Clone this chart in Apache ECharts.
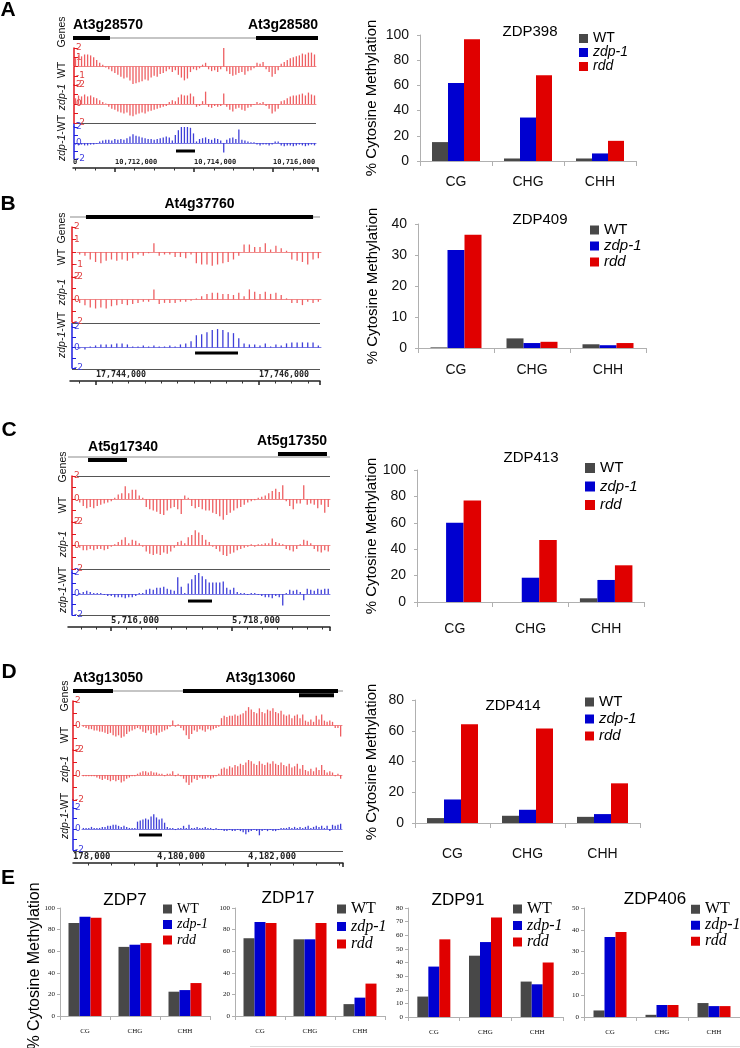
<!DOCTYPE html>
<html><head><meta charset="utf-8">
<script src="https://cdn.jsdelivr.net/npm/echarts@6/dist/echarts.min.js"></script>
<style>html,body{margin:0;padding:0;background:#fff}#c{width:740px;height:1048px}</style>
</head><body><div id="c"></div>
<script>
// ---------------- DATA ----------------
const contexts = ['CG', 'CHG', 'CHH'];
const genotypes = ['WT', 'zdp-1', 'rdd'];

// % cytosine methylation (CG, CHG, CHH)
const zdp398WT = [15, 2, 2];
const zdp398Zdp1 = [62, 34.5, 6];
const zdp398Rdd = [96.6, 68, 16];
const zdp409WT = [0.2, 3.1, 1.2];
const zdp409Zdp1 = [31.6, 1.6, 0.9];
const zdp409Rdd = [36.5, 2.0, 1.6];
const zdp413WT = [0, 0, 2.8];
const zdp413Zdp1 = [60, 18.4, 16.7];
const zdp413Rdd = [76.8, 47, 27.8];
const zdp414WT = [3.2, 4.7, 4.0];
const zdp414Zdp1 = [15.3, 8.6, 5.8];
const zdp414Rdd = [64.3, 61.4, 25.8];
const zdp7WT = [86, 64, 22.5];
const zdp7Zdp1 = [92, 66, 24];
const zdp7Rdd = [91, 67.5, 30.5];
const zdp17WT = [72, 71, 11];
const zdp17Zdp1 = [87, 71, 17];
const zdp17Rdd = [86, 86, 30];
const zdp91WT = [15, 45, 26];
const zdp91Zdp1 = [37, 55, 24];
const zdp91Rdd = [57, 73, 40];
const zdp406WT = [3, 1, 6.4];
const zdp406Zdp1 = [36.7, 5.5, 5];
const zdp406Rdd = [39, 5.5, 5];

// genome browser tracks (log2 values)
const trackA_WT = [0.9,1.2,1.1,1.3,1.3,1.2,1.0,0.7,0.4,0.2,
 -0.1,-0.3,-0.5,-0.7,-0.9,-1.1,-1.3,-1.2,-1.5,-1.9,
 -1.8,-1.7,-1.6,-1.4,-1.5,-1.2,-1.0,-1.1,-0.8,-0.7,
 -0.5,-0.3,-0.6,-0.4,-0.9,-1.2,-1.5,-1.3,-0.6,-0.3,
 -0.4,-0.2,0.2,0.4,-0.3,-0.5,-0.4,-0.6,-0.3,2.1,
 -0.5,-0.8,-1.0,-0.9,-0.7,-0.6,-0.9,-0.5,-0.4,-0.2,
 0.4,0.3,0.5,-0.3,-0.6,-1.1,-0.8,-0.4,0.3,0.5,
 0.7,0.9,1.0,1.1,1.2,1.4,1.3,1.5,1.5,1.3];
const trackA_zdp1 = [0.6,0.9,0.8,1.0,0.8,0.9,0.7,0.6,0.4,0.2,
 0.05,-0.3,-0.5,-0.6,-0.8,-0.9,-1.0,-0.9,-1.2,-1.3,
 -1.1,-1.0,-0.9,-1.0,-0.8,-0.7,-0.6,-0.5,-0.4,-0.3,
 -0.2,0.2,0.4,0.3,0.7,1.0,0.9,0.9,1.1,0.8,
 -0.3,-0.2,0.3,1.3,-0.3,-0.4,-0.2,-0.3,-0.2,1.1,
 -0.3,-0.6,-0.8,-0.5,-0.4,-0.6,-0.7,-0.4,-0.3,-0.1,
 0.2,0.1,0.2,-0.2,-0.5,-1.0,-0.8,-0.5,0.3,0.4,
 0.6,0.8,0.9,0.9,1.0,1.1,0.9,1.2,1.0,0.9];
const trackA_diff = [-0.2,-0.3,-0.2,-0.3,-0.3,-0.2,-0.2,-0.1,0.2,0.3,
 0.4,0.4,0.3,0.5,0.4,0.5,0.4,0.6,0.8,1.1,
 0.9,0.8,0.7,0.6,0.5,0.5,0.4,0.5,0.6,0.7,
 0.8,0.7,0.3,1.0,1.6,2.1,2.4,2.3,1.9,1.2,
 0.2,0.5,0.6,0.7,0.5,0.4,0.6,0.5,0.3,-1.2,
 0.4,0.6,0.7,0.5,1.7,0.4,0.3,0.2,0.1,0.1,
 -0.2,-0.3,-0.2,-0.2,-0.3,-0.2,0.2,0.2,-0.3,-0.4,
 -0.3,-0.3,-0.4,-0.3,-0.2,-0.3,-0.4,-0.3,-0.2,-0.3];

const trackB_WT = [-0.2,-0.3,-0.6,-0.8,-0.9,-0.7,-0.6,-0.7,-0.6,-0.7,
 -0.5,-0.2,-0.3,-0.1,0.7,-0.3,-0.2,-0.2,-0.4,-0.4,
 -0.5,-0.2,-0.9,-1.0,-1.0,-1.1,-1.0,-0.9,-0.8,-0.6,
 -0.3,0.6,0.6,0.4,0.4,0.7,0.2,0.5,0.3,0.1,
 -0.6,-0.7,-0.8,-1.0,-0.6,-0.5];
const trackB_zdp1 = [-0.3,-0.5,-0.7,-0.8,-0.7,-0.8,-0.6,-0.5,-0.4,-0.5,
 -0.4,-0.3,-0.2,-0.2,0.9,-0.4,-0.3,-0.3,-0.3,-0.2,
 -0.2,-0.1,0.1,0.3,0.5,0.6,0.6,0.5,0.5,0.4,
 0.6,0.3,0.9,0.7,0.5,0.7,0.5,0.6,0.4,0.1,
 -0.3,-0.3,-0.5,-0.2,-0.3,-0.2];
const trackB_diff = [-0.1,-0.2,0.1,0.2,0.3,0.3,0.3,0.4,0.4,0.3,
 0.1,0.1,0.2,0.1,0.2,0.1,0.1,0.2,0.1,0.3,
 0.4,0.6,1.2,1.3,1.5,1.7,1.8,1.7,1.5,1.4,
 0.9,0.4,0.3,0.3,0.2,0.4,0.1,0.3,0.2,0.4,
 0.5,0.5,0.5,0.5,0.5,0.2];

const trackC_WT = [-0.3,-0.6,-0.8,-0.7,-0.8,-0.6,-0.5,-0.4,-0.3,-0.2,
 0.1,0.4,0.5,1.1,0.5,0.8,0.8,0.3,0.1,-0.7,
 -0.9,-1.0,-1.1,-1.3,-1.4,-1.0,-0.8,-0.7,-0.9,-1.3,
 0.3,0.1,-0.6,-0.8,-0.7,-0.9,-1.0,-1.0,-1.2,-1.3,
 -1.5,-1.8,-1.4,-1.2,-1.0,-0.8,-0.7,-0.5,-0.3,-0.2,
 -0.1,0.1,0.2,0.3,0.5,0.7,0.9,0.6,1.2,-0.2,
 -0.6,-0.9,-0.4,-0.4,1.2,-0.5,-0.4,-0.5,-0.8,-0.5,
 -1.2,-0.7];
const trackC_zdp1 = [-0.2,-0.4,-0.4,-0.3,-0.4,-0.3,-0.3,-0.4,-0.3,-0.1,
 0.1,0.3,0.5,0.7,0.2,0.5,0.4,0.2,-0.1,-0.5,
 -0.7,-0.8,-0.7,-0.8,-0.6,-0.7,-0.5,-0.2,0.3,0.4,
 0.2,0.7,0.9,1.3,1.1,0.9,0.5,0.3,-0.1,-0.3,
 -0.5,-0.8,-0.9,-0.7,-0.6,-0.4,-0.3,-0.2,-0.1,0.1,
 -0.1,0.1,0.1,0.2,0.2,0.6,0.3,0.2,0.1,-0.3,
 -0.4,-0.5,-0.3,0.1,0.5,0.4,0.2,-0.3,-0.5,-0.6,
 -0.4,-0.5];
const trackC_diff = [0.1,0.2,0.3,0.2,0.1,0.1,0.1,-0.1,-0.2,-0.2,
 -0.3,-0.3,-0.3,-0.4,-0.3,-0.3,-0.2,0.1,0.1,0.4,
 0.5,0.4,0.6,0.6,0.7,0.5,0.4,0.3,1.6,0.7,
 0.1,1.0,1.4,1.8,2.1,1.7,1.4,1.1,1.1,1.1,
 1.1,1.2,0.6,0.4,0.6,0.2,0.1,0.1,-0.1,0.1,
 0.1,-0.1,-0.2,-0.3,-0.3,-0.4,-0.2,-0.3,-1.1,0.1,
 0.4,0.3,0.4,0.2,-0.6,0.5,0.4,0.3,0.5,0.4,
 0.5,0.5];

const trackD_WT = [-0.1,-0.2,-0.3,-0.3,-0.4,-0.4,-0.5,-0.5,-0.6,-0.7,
 -0.6,-0.8,-0.9,-0.8,-1.0,-0.9,-0.7,-0.5,-0.4,-0.3,
 -0.2,-0.3,-0.5,-0.6,-0.4,-0.7,-0.6,-0.8,-0.6,-0.5,
 -0.4,-0.3,-0.1,0.4,-0.1,0.1,-0.2,-0.4,-0.8,-1.1,
 -0.7,-0.4,-0.5,-0.3,-0.4,-0.5,-0.3,-0.4,-0.3,-0.2,
 -0.1,0.6,0.8,0.7,0.8,0.8,0.9,0.8,0.9,1.0,
 1.2,1.5,1.3,1.1,1.0,1.4,1.1,1.0,1.3,1.2,
 1.4,1.1,1.0,1.2,0.9,0.8,0.9,0.6,0.8,0.9,
 0.6,0.9,0.4,0.3,0.5,0.3,0.8,0.5,0.9,0.4,
 0.3,0.4,0.3,-0.2,-0.2,-0.9];
const trackD_zdp1 = [-0.1,-0.1,-0.1,-0.1,-0.1,-0.2,-0.3,-0.4,-0.3,-0.4,
 -0.5,-0.4,-0.5,-0.4,-0.6,-0.5,-0.3,-0.2,-0.1,-0.1,
 0.1,0.2,0.3,0.3,0.2,0.3,0.2,0.2,0.1,0.1,
 -0.1,0.1,0.1,0.3,-0.1,0.1,-0.1,-0.3,-0.6,-0.8,
 -0.6,-0.3,-0.4,-0.2,-0.3,-0.3,-0.2,-0.3,-0.2,-0.1,
 0.1,0.5,0.6,0.5,0.7,0.6,0.8,0.7,0.9,0.8,
 1.0,1.2,1.1,0.9,0.8,1.1,0.9,0.8,1.0,0.9,
 1.1,0.9,0.8,1.0,0.8,0.7,0.9,0.6,0.7,0.9,
 0.5,0.8,0.4,0.3,0.5,0.3,0.6,0.4,0.8,0.4,
 0.2,0.3,0.2,-0.1,0.1,-0.3];
const trackD_diff = [0.1,0.1,0.1,0.2,0.1,0.1,0.1,0.2,0.2,0.3,
 0.3,0.4,0.4,0.3,0.2,0.3,0.2,0.1,0.1,0.1,
 0.7,0.8,0.9,1.0,0.9,1.2,1.4,1.1,0.9,1.0,
 0.6,0.2,0.1,0.1,-0.1,0.1,0.1,0.3,0.1,0.4,
 0.1,0.1,0.2,0.1,0.1,0.2,0.1,0.1,-0.1,0.1,
 -0.1,-0.1,-0.2,-0.2,-0.1,-0.2,-0.2,-0.1,-0.2,-0.3,
 -0.5,-0.3,-0.2,-0.1,-0.2,-0.6,-0.2,-0.1,-0.2,-0.1,
 -0.2,-0.2,-0.1,0.1,0.1,0.1,0.2,0.1,0.2,0.1,
 0.2,0.1,0.2,0.3,0.1,0.2,0.3,0.2,0.3,0.1,
 0.3,-0.2,0.4,0.3,0.4,0.5];

// genomic coordinates
const rangeA = [10710937, 10717139];
const ticksA = [10712000, 10714000, 10716000];
const genesA = [{name:'At3g28570', start:10710937, end:10711873}, {name:'At3g28580', start:10715570, end:10717139}];
const peakA = [10713544, 10714025];

const rangeB = [17743681, 17746748];
const ticksB = [17744000, 17746000];
const genesB = [{name:'At4g37760', start:17743877, end:17746663}];
const peakB = [17745215, 17745742];

const rangeC = [5715289, 5719620];
const ticksC = [5716000, 5718000];
const genesC = [{name:'At5g17340', start:5715620, end:5716264}, {name:'At5g17350', start:5718760, end:5719570}];
const peakC = [5717273, 5717669];

const rangeD = [4178154, 4184088];
const ticksD = [4180000, 4182000];
const genesD = [{name:'At3g13050', start:4178154, end:4179033}, {name:'At3g13060', start:4180571, end:4183978}, {name:'', start:4183121, end:4183890}];
const peakD = [4179604, 4180110];

// ---------------- LAYOUT / STYLE ----------------
const RED_AXIS = '#e3161c', RED_BAR = '#ee5f62', RED_BASE = '#f08c8c';
const BLUE_AXIS = '#1f1fe0', BLUE_BAR = '#3f3fd8', BLUE_BASE = '#7c7ce4';
const GCOL = ['#484848', '#0000d0', '#e00000'];
const SANS = 'Liberation Sans', SERIF = 'Liberation Serif';

const grid = [], xAxis = [], yAxis = [], series = [], legend = [], graphic = [];
function addGrid(g) { grid.push(Object.assign({outerBoundsMode: 'none', containLabel: false}, g)); return grid.length - 1; }
function txt(x, y, text, font, opts) {
  graphic.push(Object.assign({type: 'text', x: x, y: y, silent: true,
    style: Object.assign({text: text, font: font, fill: '#000', align: 'center', verticalAlign: 'middle'}, (opts && opts.style) || {})},
    (opts && opts.el) || {}));
}
function hline(x1, y, x2, color) {
  graphic.push({type: 'line', silent: true, shape: {x1: x1, y1: y + 0.5, x2: x2, y2: y + 0.5}, style: {stroke: color || '#555', lineWidth: 1}});
}
function vline(x, y1, y2, color) {
  graphic.push({type: 'line', silent: true, shape: {x1: x, y1: y1, x2: x, y2: y2}, style: {stroke: color, lineWidth: 1.5}});
}
function rotLabel(x, y, text, italicPart) {
  let t;
  if (italicPart === 'all') t = '{i|' + text + '}';
  else if (italicPart) t = '{i|' + italicPart + '}{n|' + text.slice(italicPart.length) + '}';
  else t = '{n|' + text + '}';
  graphic.push({type: 'text', x: x, y: y, rotation: Math.PI / 2, silent: true,
    style: {text: t, align: 'center', verticalAlign: 'middle', fill: '#111',
      rich: {i: {fontStyle: 'italic', fontSize: 10.5, fontFamily: SANS, fill: '#111'}, n: {fontSize: 10.5, fontFamily: SANS, fill: '#111'}}}});
}

function buildBrowser(L, range, ticks, genes, peak, tracks, leftLabel, minorStep) {
  const pxPerBp = L.rulerW / (range[1] - range[0]);
  // gene track
  const gg = addGrid({left: L.rulerLeft, width: L.rulerW, top: L.geneY - 10, height: 20});
  xAxis.push({gridIndex: gg, type: 'value', min: range[0], max: range[1], show: false});
  yAxis.push({gridIndex: gg, type: 'value', min: -1, max: 1, show: false});
  const gx = xAxis.length - 1, gy = yAxis.length - 1;
  series.push({type: 'custom', xAxisIndex: gx, yAxisIndex: gy, silent: true, clip: false,
    data: [[range[0], range[1], 0]], encode: {x: [0, 1], y: 2},
    renderItem: function (params, api) {
      const a = api.coord([api.value(0), 0]), b = api.coord([api.value(1), 0]);
      return {type: 'rect', shape: {x: a[0], y: a[1] - 0.5, width: b[0] - a[0], height: 1}, style: {fill: '#8c8c8c'}};
    }});
  series.push({type: 'custom', xAxisIndex: gx, yAxisIndex: gy, silent: true, clip: false,
    data: genes.map(g => [g.start, g.end, 0]), encode: {x: [0, 1], y: 2},
    renderItem: function (params, api) {
      const i = params.dataIndex, lay = L.geneLayout[i];
      const a = api.coord([api.value(0), 0]), b = api.coord([api.value(1), 0]);
      const y = a[1] + lay.lane * 3;
      const kids = [{type: 'rect', shape: {x: a[0], y: y - 2, width: b[0] - a[0], height: 4}, style: {fill: '#000'}}];
      if (genes[i].name) {
        const tx = lay.align === 'left' ? a[0] : lay.align === 'right' ? b[0] : (a[0] + b[0]) / 2;
        kids.push({type: 'text', style: {x: tx, y: y - 12.5, text: genes[i].name, align: lay.align, verticalAlign: 'middle', font: 'bold 14px "Liberation Sans"', fill: '#000'}});
      }
      return {type: 'group', children: kids};
    }});
  // data tracks
  tracks.forEach((t, k) => {
    const tl = L.tracks[k];
    const blue = k === 2;
    const gi = addGrid({left: L.barLeft, width: L.barW, top: tl.top, height: tl.h});
    xAxis.push({gridIndex: gi, type: 'category', data: t.map((_, i) => i), boundaryGap: true,
      axisLine: {show: true, onZero: true, lineStyle: {color: blue ? BLUE_BASE : RED_BASE, width: 1}},
      axisTick: {show: false}, axisLabel: {show: false}, splitLine: {show: false}});
    const xi = xAxis.length - 1;
    const col = blue ? BLUE_AXIS : RED_AXIS;
    yAxis.push({gridIndex: gi, type: 'value', min: -2, max: 2, interval: 1, offset: L.barLeft - L.axisX,
      axisLine: {show: true, lineStyle: {color: col, width: 1.5}},
      axisTick: {show: true, inside: true, length: 4, lineStyle: {color: col, width: 1}},
      axisLabel: {show: true, inside: true, margin: 2, fontSize: 9, fontFamily: 'DejaVu Sans', color: blue ? '#4040e0' : '#e04040',
        showMinLabel: true, showMaxLabel: true,
        formatter: v => tl.labels.indexOf(v) >= 0 ? String(v) : ''},
      splitLine: {show: false}});
    const yi = yAxis.length - 1;
    series.push({type: 'bar', xAxisIndex: xi, yAxisIndex: yi, data: t, barWidth: 1.3, silent: true,
      itemStyle: {color: blue ? BLUE_BAR : RED_BAR}});
    if (blue) {
      const gMin = range[0] + (L.barLeft - L.rulerLeft) / pxPerBp;
      const gMax = gMin + L.barW / pxPerBp;
      xAxis.push({gridIndex: gi, type: 'value', min: gMin, max: gMax, show: false});
      series.push({type: 'custom', xAxisIndex: xAxis.length - 1, yAxisIndex: yi, silent: true, clip: false,
        data: [[peak[0], peak[1], L.peakLevel]], encode: {x: [0, 1], y: 2},
        renderItem: function (params, api) {
          const a = api.coord([api.value(0), api.value(2)]), b = api.coord([api.value(1), api.value(2)]);
          return {type: 'rect', shape: {x: a[0], y: a[1] - 1.5, width: b[0] - a[0], height: 3}, style: {fill: '#000'}};
        }});
    }
  });
  if (L.blueExt) vline(L.axisX, L.blueExt[0], L.blueExt[1], BLUE_AXIS);
  // ruler
  const rg = addGrid({left: L.rulerLeft, width: L.rulerW, top: L.rulerY - 10, height: 10});
  xAxis.push({gridIndex: rg, type: 'value', min: range[0], max: range[1], position: 'bottom',
    axisLine: {show: true, onZero: false, lineStyle: {color: '#222', width: 1.5}},
    axisTick: {show: true, customValues: ticks.concat([range[1]]), length: 4, lineStyle: {color: '#222', width: 1.5}},
    axisLabel: {show: true, inside: true, customValues: [range[0]].concat(ticks), align: 'left', margin: 2,
      fontSize: L.rulerFont, fontFamily: 'DejaVu Sans Mono', fontWeight: 'bold', color: '#222',
      showMinLabel: true, showMaxLabel: true,
      formatter: v => (Math.abs(v - range[0]) < 1 ? leftLabel : Math.round(v).toLocaleString('en-US'))},
    splitLine: {show: false}});
  yAxis.push({gridIndex: rg, type: 'value', min: 0, max: 1, show: false});
  const minor = [];
  for (let v = Math.ceil(range[0] / minorStep) * minorStep; v < range[1]; v += minorStep) if (ticks.indexOf(v) < 0) minor.push(v);
  const mg = addGrid({left: L.rulerLeft, width: L.rulerW, top: L.rulerY - 10, height: 10});
  xAxis.push({gridIndex: mg, type: 'value', min: range[0], max: range[1], position: 'bottom',
    axisLine: {show: false, onZero: false}, axisTick: {show: true, customValues: minor, length: 2.5, lineStyle: {color: '#333', width: 1}},
    axisLabel: {show: false}, splitLine: {show: false}});
  yAxis.push({gridIndex: mg, type: 'value', min: 0, max: 1, show: false});
  // decorations
  L.seps.forEach(s => hline(s[0], s[1], s[2], '#555'));
  txt(L.letter[1], L.letter[2], L.letter[0], 'bold 21px "Liberation Sans"');
  rotLabel(L.labelX, L.labelYs[0], 'Genes');
  rotLabel(L.labelX, L.labelYs[1], 'WT');
  rotLabel(L.labelX, L.labelYs[2], 'zdp-1', 'all');
  rotLabel(L.labelX, L.labelYs[3], 'zdp-1-WT', 'zdp-1');
}

const LA = {axisX: 74, barLeft: 74, barW: 242, rulerLeft: 73, rulerW: 245, geneY: 38, rulerY: 168, rulerFont: 7,
  tracks: [{top: 48, h: 37, labels: [2, 1, -1, -2]}, {top: 85, h: 38, labels: [2, 0, -2]}, {top: 127, h: 32, labels: [2, 0, -2]}],
  seps: [[74, 123, 316]], peakLevel: -1.0, labelX: 62, labelYs: [32, 70, 97, 138], letter: ['A', 8, 10], blueExt: [123, 127],
  geneLayout: [{lane: 0, align: 'left'}, {lane: 0, align: 'right'}]};
const LB = {axisX: 72, barLeft: 77, barW: 244, rulerLeft: 70, rulerW: 250, geneY: 217, rulerY: 381, rulerFont: 8.3,
  tracks: [{top: 227, h: 50, labels: [2, 1, -1, -2]}, {top: 277, h: 45, labels: [2, 0, -2]}, {top: 327, h: 41, labels: [2, 0, -2]}],
  seps: [[72, 323, 320], [72, 369, 320]], peakLevel: -0.54, labelX: 62, labelYs: [228, 257, 292, 335], letter: ['B', 8, 204], blueExt: [323, 327],
  geneLayout: [{lane: 0, align: 'center'}]};
const LC = {axisX: 72, barLeft: 78, barW: 252, rulerLeft: 68, rulerW: 262, geneY: 457, rulerY: 627, rulerFont: 8.9,
  tracks: [{top: 476, h: 46, labels: [2, 0, -2]}, {top: 522, h: 47, labels: [2, 0, -2]}, {top: 573, h: 42, labels: [2, 0, -2]}],
  seps: [[77, 476, 330], [77, 569, 330], [77, 615, 330]], peakLevel: -0.67, labelX: 63, labelYs: [467, 505, 544, 590], letter: ['C', 9, 430], blueExt: [569, 573],
  geneLayout: [{lane: 1, align: 'left'}, {lane: -1, align: 'right'}]};
const LD = {axisX: 73, barLeft: 82, barW: 260, rulerLeft: 73, rulerW: 270, geneY: 691, rulerY: 863, rulerFont: 8.9,
  tracks: [{top: 701, h: 49, labels: [2, 0, -2]}, {top: 750, h: 50, labels: [2, 0, -2]}, {top: 808, h: 42, labels: [2, 0, -2]}],
  seps: [[73, 851, 343]], peakLevel: -0.57, labelX: 65, labelYs: [696, 735, 769, 816], letter: ['D', 9, 672], blueExt: [799, 808],
  geneLayout: [{lane: 0, align: 'left'}, {lane: 0, align: 'center'}, {lane: 1.4, align: 'left'}]};

buildBrowser(LA, rangeA, ticksA, genesA, peakA, [trackA_WT, trackA_zdp1, trackA_diff], '0', 500);
buildBrowser(LB, rangeB, ticksB, genesB, peakB, [trackB_WT, trackB_zdp1, trackB_diff], '', 200);
buildBrowser(LC, rangeC, ticksC, genesC, peakC, [trackC_WT, trackC_zdp1, trackC_diff], '', 250);
buildBrowser(LD, rangeD, ticksD, genesD, peakD, [trackD_WT, trackD_zdp1, trackD_diff], '178,000', 500);

function buildBars(C, title, vals) {
  const gi = addGrid({left: C.left, top: C.top, width: C.width, height: C.height});
  xAxis.push({gridIndex: gi, type: 'category', data: contexts,
    axisLine: {show: true, lineStyle: {color: '#b0b0b0', width: 1}},
    axisTick: {show: true, length: C.tickLen, lineStyle: {color: '#b0b0b0'}},
    axisLabel: {fontSize: C.catFont, fontFamily: C.family, color: '#111', margin: C.catMargin}, splitLine: {show: false}});
  yAxis.push({gridIndex: gi, type: 'value', min: 0, max: C.max, interval: C.interval,
    axisLine: {show: true, lineStyle: {color: '#b0b0b0', width: 1}},
    axisTick: {show: true, length: 3, lineStyle: {color: '#b0b0b0'}},
    axisLabel: {fontSize: C.yFont, fontFamily: C.family, color: '#111', margin: C.yMargin}, splitLine: {show: false}});
  const xi = xAxis.length - 1, yi = yAxis.length - 1;
  vals.forEach((d, k) => series.push({type: 'bar', name: genotypes[k], xAxisIndex: xi, yAxisIndex: yi, data: d,
    barWidth: C.barW, barGap: '0%', itemStyle: {color: GCOL[k]}}));
  const rich = {n: {fontSize: C.legFont, fontFamily: C.legFamily, lineHeight: C.legSpace, color: '#000'},
    i: {fontStyle: 'italic', fontSize: C.legFont, fontFamily: C.legFamily, lineHeight: C.legSpace, color: '#000'}};
  legend.push({left: C.legX, top: C.legTop, orient: 'vertical', padding: 0, itemGap: 0, itemWidth: C.legSq, itemHeight: C.legSq,
    icon: 'rect', data: genotypes, selectedMode: false,
    formatter: n => (n === 'WT' ? '{n|' + n + '}' : '{i|' + n + '}'),
    textStyle: {fontSize: C.legFont, fontFamily: C.legFamily, lineHeight: C.legSpace, color: '#000', rich: rich}});
  txt(C.title[0], C.title[1], title, C.titleFont + 'px "Liberation Sans"');
  if (C.ytitle) txt(C.ytitle[0], C.ytitle[1], '% Cytosine Methylation', '15px "Liberation Sans"', {el: {rotation: Math.PI / 2}});
}
const base = {family: SANS, legFamily: SANS, catFont: 14, yFont: 14, yMargin: 11, tickLen: 5, titleFont: 15};
buildBars(Object.assign({}, base, {left: 420, top: 35, width: 216, height: 126, max: 100, interval: 20, barW: 16, catMargin: 14,
  title: [530, 32], legX: 579, legTop: 31.5, legSpace: 13, legFont: 14, legSq: 9, ytitle: [372, 98]}),
  'ZDP398', [zdp398WT, zdp398Zdp1, zdp398Rdd]);
buildBars(Object.assign({}, base, {left: 418, top: 224, width: 228, height: 124, max: 40, interval: 10, barW: 17, catMargin: 15,
  title: [540, 220], legX: 590, legTop: 222, legSpace: 16, legFont: 15, legSq: 9, ytitle: [373, 286]}),
  'ZDP409', [zdp409WT, zdp409Zdp1, zdp409Rdd]);
buildBars(Object.assign({}, base, {left: 417, top: 470, width: 227, height: 132, max: 100, interval: 20, barW: 17.5, catMargin: 20,
  title: [531, 458], legX: 585, legTop: 458.75, legSpace: 18.5, legFont: 15, legSq: 10, ytitle: [372, 536]}),
  'ZDP413', [zdp413WT, zdp413Zdp1, zdp413Rdd]);
buildBars(Object.assign({}, base, {left: 415, top: 700, width: 225, height: 123, max: 80, interval: 20, barW: 17, catMargin: 24,
  title: [513, 706], legX: 585, legTop: 693.5, legSpace: 17, legFont: 15, legSq: 9, ytitle: [372, 762]}),
  'ZDP414', [zdp414WT, zdp414Zdp1, zdp414Rdd]);

const baseE = {family: SERIF, legFamily: SERIF, catFont: 7, yFont: 7, yMargin: 5, tickLen: 4, catMargin: 12, titleFont: 17, barW: 11, legSq: 9};
buildBars(Object.assign({}, baseE, {left: 60, top: 908, width: 150, height: 108, max: 100, interval: 20,
  title: [125, 900], legX: 163, legTop: 901.25, legSpace: 15.5, legFont: 14}), 'ZDP7', [zdp7WT, zdp7Zdp1, zdp7Rdd]);
buildBars(Object.assign({}, baseE, {left: 235, top: 908, width: 150, height: 108, max: 100, interval: 20,
  title: [288, 898], legX: 337, legTop: 900.25, legSpace: 17.5, legFont: 16}), 'ZDP17', [zdp17WT, zdp17Zdp1, zdp17Rdd]);
buildBars(Object.assign({}, baseE, {left: 408, top: 908, width: 155, height: 109, max: 80, interval: 10,
  title: [458, 900], legX: 513, legTop: 900.75, legSpace: 16.5, legFont: 16}), 'ZDP91', [zdp91WT, zdp91Zdp1, zdp91Rdd]);
buildBars(Object.assign({}, baseE, {left: 584, top: 908, width: 156, height: 109, max: 50, interval: 10,
  title: [655, 899], legX: 691, legTop: 901.25, legSpace: 15.5, legFont: 16}), 'ZDP406', [zdp406WT, zdp406Zdp1, zdp406Rdd]);

txt(8, 878, 'E', 'bold 21px "Liberation Sans"');
txt(35, 966, '% Cytosine Methylation', '16px "Liberation Sans"', {el: {rotation: Math.PI / 2}});
hline(250, 1046, 740, '#dcdcdc');

const chart = echarts.init(document.getElementById('c'), null, {renderer: 'canvas', width: 740, height: 1048});
chart.setOption({animation: false, backgroundColor: '#fff', grid: grid, xAxis: xAxis, yAxis: yAxis, series: series,
  legend: legend, graphic: {elements: graphic}});
</script></body></html>
